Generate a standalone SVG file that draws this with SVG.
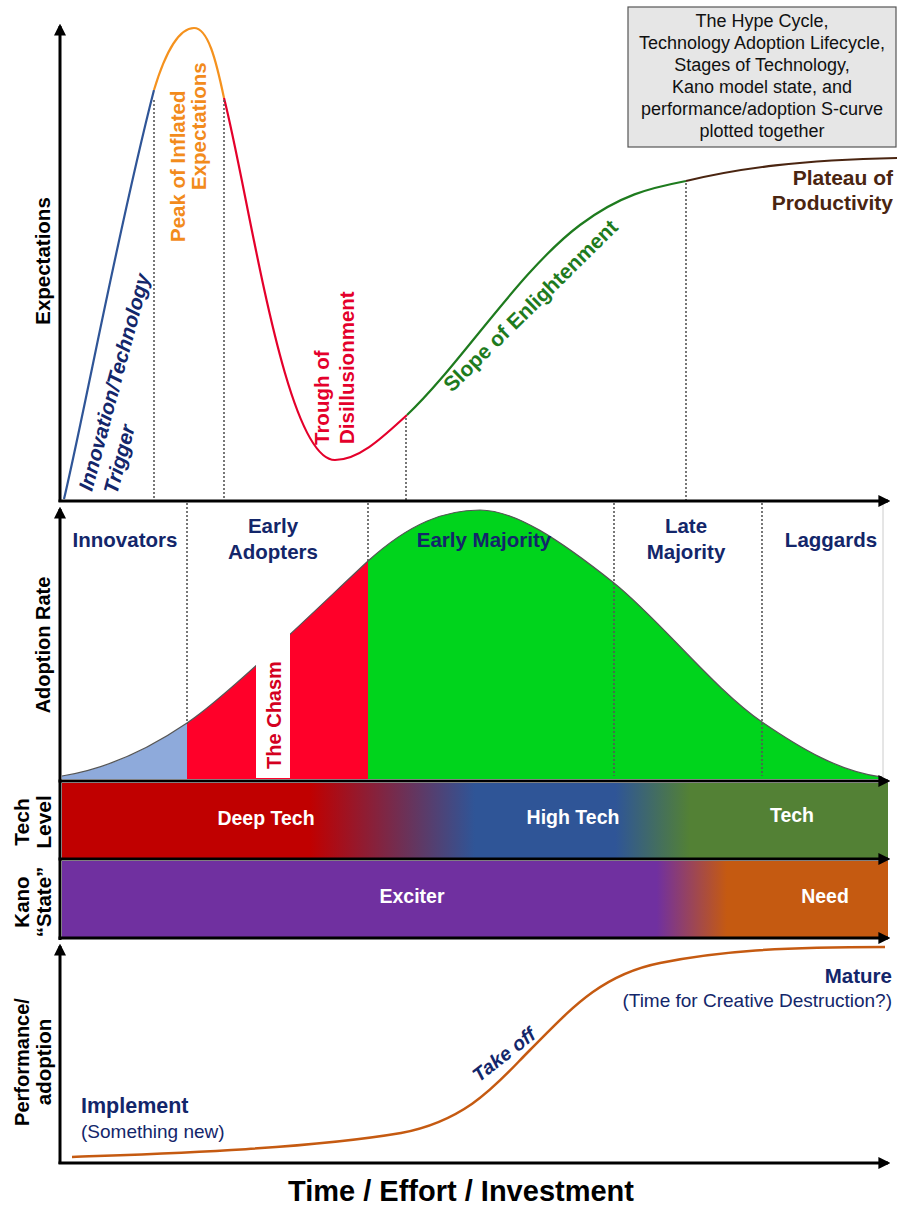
<svg xmlns="http://www.w3.org/2000/svg" width="898" height="1206" viewBox="0 0 898 1206">
<style>
text{font-family:"Liberation Sans",Arial,Helvetica,sans-serif}
.b{font-weight:bold}
.ax{fill:#000;font-weight:bold;text-anchor:middle}
.nv{fill:#13266a;font-weight:bold;font-size:20.5px;text-anchor:middle}
.wt{fill:#fff;font-weight:bold;font-size:19.5px;text-anchor:middle}
.axis{stroke:#000;stroke-width:3;fill:none}
.dot{stroke:#555;stroke-width:1.6;stroke-dasharray:2 2;fill:none}
.hc{fill:none;stroke-width:2.2}
</style>
<defs>
<marker id="ah" viewBox="0 0 10 10" refX="8" refY="5" markerWidth="4" markerHeight="4" orient="auto-start-reverse" markerUnits="strokeWidth">
<path d="M0,0 L10,5 L0,10 z" fill="#000"/>
</marker>
<linearGradient id="gTech" x1="62" y1="0" x2="888" y2="0" gradientUnits="userSpaceOnUse">
<stop offset="0" stop-color="#c00000"/>
<stop offset="0.3" stop-color="#c00000"/>
<stop offset="0.5" stop-color="#2f5597"/>
<stop offset="0.67" stop-color="#2f5597"/>
<stop offset="0.76" stop-color="#538135"/>
<stop offset="1" stop-color="#538135"/>
</linearGradient>
<linearGradient id="gKano" x1="62" y1="0" x2="888" y2="0" gradientUnits="userSpaceOnUse">
<stop offset="0" stop-color="#7030a0"/>
<stop offset="0.72" stop-color="#7030a0"/>
<stop offset="0.805" stop-color="#c55a11"/>
<stop offset="1" stop-color="#c55a11"/>
</linearGradient>
<clipPath id="bell">
<path d="M62,776 C100,770 140,755 187,723 C230,694 330,596 368,561 C410,523 445,510 480,510 C515,510 560,540 614,583 C660,620 715,690 762,722 C800,748 840,772 882,777 L882,779 L62,779 Z"/>
</clipPath>
</defs>
<rect width="898" height="1206" fill="#fff"/>

<g id="title-box">
<rect x="628" y="7" width="268" height="140" fill="#e6e6e6" stroke="#555" stroke-width="1.2"/>
<g font-size="18" fill="#111" text-anchor="middle">
<text x="762" y="27">The Hype Cycle,</text>
<text x="762" y="49">Technology Adoption Lifecycle,</text>
<text x="762" y="71">Stages of Technology,</text>
<text x="762" y="93">Kano model state, and</text>
<text x="762" y="115">performance/adoption S-curve</text>
<text x="762" y="137">plotted together</text>
</g>
</g>

<g id="adoption-curve">
<g clip-path="url(#bell)">
<rect x="62" y="500" width="125" height="280" fill="#8eaadb"/>
<rect x="187" y="500" width="181" height="280" fill="#ff0029"/>
<rect x="368" y="500" width="515" height="280" fill="#00d41c"/>
</g>
<path d="M62,776 C100,770 140,755 187,723 C230,694 330,596 368,561 C410,523 445,510 480,510 C515,510 560,540 614,583 C660,620 715,690 762,722 C800,748 840,772 882,777" fill="none" stroke="#555" stroke-width="1.2"/>
<rect x="256" y="600" width="34" height="178" fill="#fff"/>
<line x1="883" y1="503" x2="883" y2="777" stroke="#ccc" stroke-width="1"/>
</g>

<g id="hype-curve">
<path class="hc" stroke="#2f5597" d="M64,499 C85,410 118,230 154,90"/>
<path class="hc" stroke="#f5921e" d="M154,90 C166,50 180,28 194,28 C208,28 216,60 224,98"/>
<path class="hc" stroke="#e4002b" d="M224,98 C250,200 285,460 335,460 C360,460 385,435 407,415"/>
<path class="hc" stroke="#1e7b1e" d="M407,415 C460,365 520,270 580,225 C620,195 650,188 686,181"/>
<path class="hc" stroke="#4a2511" d="M686,181 C740,168 800,160 897,158"/>
</g>

<g id="dividers">
<line class="dot" x1="154" y1="100" x2="154" y2="500"/>
<line class="dot" x1="224" y1="100" x2="224" y2="500"/>
<line class="dot" x1="406" y1="418" x2="406" y2="500"/>
<line class="dot" x1="686" y1="183" x2="686" y2="500"/>
<line class="dot" x1="187" y1="503" x2="187" y2="724"/>
<line class="dot" x1="368" y1="503" x2="368" y2="561"/>
<line class="dot" x1="614" y1="503" x2="614" y2="776"/>
<line class="dot" x1="762" y1="503" x2="762" y2="776"/>
</g>

<g id="bands">
<rect id="tech-level" x="62" y="783" width="826" height="75" fill="url(#gTech)"/>
<rect id="kano-state" x="62" y="861" width="826" height="76" fill="url(#gKano)"/>
<text class="wt" x="266" y="825">Deep Tech</text>
<text class="wt" x="573" y="824">High Tech</text>
<text class="wt" x="792" y="822">Tech</text>
<text class="wt" x="412" y="903">Exciter</text>
<text class="wt" x="825" y="903">Need</text>
</g>

<g id="performance-curve">
<path d="M72,1157 C150,1154 300,1150 401,1133 C470,1120 500,1080 530,1050 C570,1010 600,975 660,963 C720,951 780,947 885,947" fill="none" stroke="#c55a11" stroke-width="2.5"/>
</g>

<g id="connectors">
<line class="axis" x1="60" y1="502" x2="60" y2="26" marker-end="url(#ah)"/>
<line class="axis" x1="58.5" y1="501" x2="888" y2="501" marker-end="url(#ah)"/>
<line class="axis" x1="60" y1="940" x2="60" y2="509" marker-end="url(#ah)"/>
<line class="axis" x1="58.5" y1="781" x2="888" y2="781" marker-end="url(#ah)"/>
<line class="axis" x1="58.5" y1="859" x2="888" y2="859" marker-end="url(#ah)"/>
<line class="axis" x1="58.5" y1="938" x2="888" y2="938" marker-end="url(#ah)"/>
<line class="axis" x1="60" y1="1164" x2="60" y2="946" marker-end="url(#ah)"/>
<line class="axis" x1="58.5" y1="1163" x2="888" y2="1163" marker-end="url(#ah)"/>
</g>

<g id="hype-labels" class="b">
<g fill="#13266a" font-size="20.5" font-style="italic">
<text transform="translate(92,492) rotate(-75)">Innovation/Technology</text>
<text transform="translate(117,495) rotate(-75)">Trigger</text>
</g>
<g fill="#f28b1c" font-size="20.5">
<text transform="translate(185,242) rotate(-90)">Peak of Inflated</text>
<text transform="translate(206,190) rotate(-90)">Expectations</text>
</g>
<g fill="#e4002b" font-size="20.5">
<text transform="translate(329,445) rotate(-90)">Trough of</text>
<text transform="translate(354,444) rotate(-90)">Disillusionment</text>
</g>
<text fill="#1e7b1e" font-size="21" transform="translate(452,393) rotate(-44.5)">Slope of Enlightenment</text>
<g fill="#4a2511" font-size="21" text-anchor="end">
<text x="893" y="185">Plateau of</text>
<text x="893" y="210">Productivity</text>
</g>
</g>

<g id="adoption-labels">
<text class="nv" x="125" y="547">Innovators</text>
<text class="nv" x="273" y="533">Early</text>
<text class="nv" x="273" y="559">Adopters</text>
<text class="nv" x="484" y="547">Early Majority</text>
<text class="nv" x="686" y="533">Late</text>
<text class="nv" x="686" y="559">Majority</text>
<text class="nv" x="831" y="547">Laggards</text>
<text class="b" fill="#d4001f" font-size="20" text-anchor="middle" transform="translate(281,715) rotate(-90)">The Chasm</text>
</g>

<g id="performance-labels">
<text fill="#13266a" class="b" font-size="21.5" x="81" y="1113">Implement</text>
<text fill="#13266a" font-size="19" x="81" y="1138">(Something new)</text>
<text fill="#13266a" class="b" font-size="20.5" x="892" y="983" text-anchor="end">Mature</text>
<text fill="#13266a" font-size="19" x="892" y="1007" text-anchor="end">(Time for Creative Destruction?)</text>
<text fill="#13266a" class="b" font-size="19.5" font-style="italic" text-anchor="middle" transform="translate(508,1060) rotate(-38)">Take off</text>
</g>

<g id="axis-labels">
<text class="ax" style="font-size:20.5px" transform="translate(50,261) rotate(-90)">Expectations</text>
<text class="ax" style="font-size:20px" transform="translate(50,645) rotate(-90)">Adoption Rate</text>
<text class="ax" style="font-size:21px" transform="translate(29,822) rotate(-90)">Tech</text>
<text class="ax" style="font-size:21px" transform="translate(51,822) rotate(-90)">Level</text>
<text class="ax" style="font-size:20.5px" transform="translate(29,902) rotate(-90)">Kano</text>
<text class="ax" style="font-size:20.5px" transform="translate(51,902) rotate(-90)">“State”</text>
<text class="ax" style="font-size:20px" transform="translate(29,1062) rotate(-90)">Performance/</text>
<text class="ax" style="font-size:20.5px" transform="translate(51,1062) rotate(-90)">adoption</text>
<text class="ax" style="font-size:29px" x="461" y="1201">Time / Effort / Investment</text>
</g>
</svg>
